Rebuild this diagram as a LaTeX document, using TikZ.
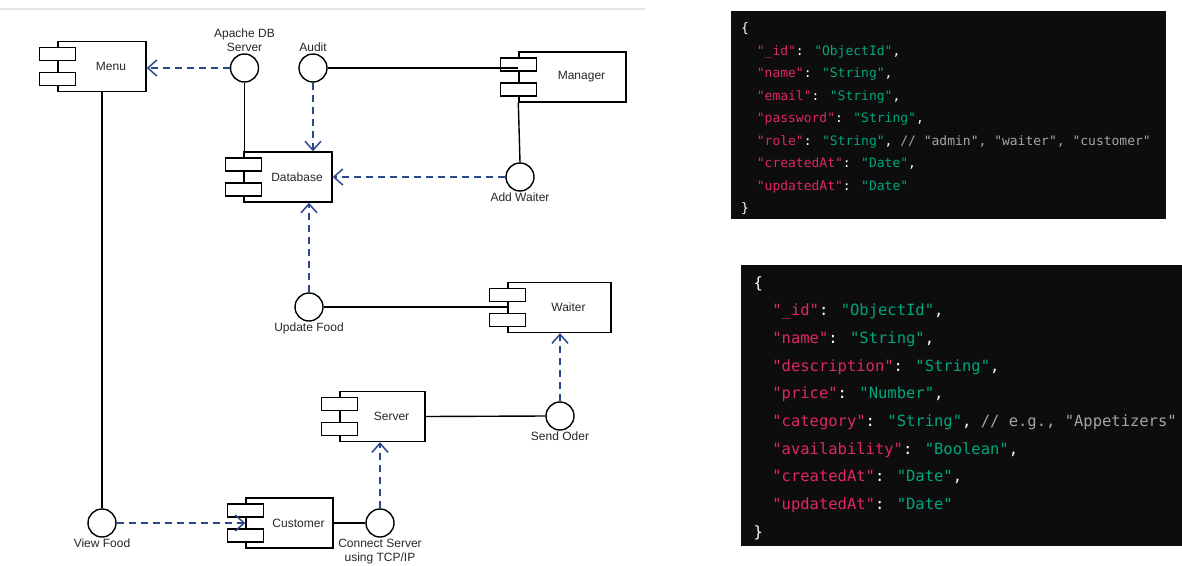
\documentclass[tikz,border=0pt]{standalone}
\usepackage{fontspec}
\usetikzlibrary{arrows.meta}
\newfontfamily\diagfont{Liberation Sans}
\newfontfamily\codefont{DejaVu Sans Mono}
\definecolor{depblue}{RGB}{44,72,140}
\definecolor{codebg}{RGB}{13,13,13}
\definecolor{jsonkey}{RGB}{222,40,95}
\definecolor{jsonstr}{RGB}{0,166,125}
\definecolor{jsoncmt}{RGB}{165,165,165}
\newcommand\jk[1]{\textcolor{jsonkey}{"#1"}}
\newcommand\js[1]{\textcolor{jsonstr}{"#1"}}
\newcommand\jc[1]{\textcolor{jsoncmt}{#1}}
\newcommand\jin{\phantom{xx}}

\begin{document}
\begin{tikzpicture}[x=1pt,y=-1pt,
  comp/.style={draw,line width=1.4pt,minimum width=#1,minimum height=50pt,
    inner sep=0pt,font=\diagfont\fontsize{12}{13}\selectfont,text=black!85,
    execute at begin node=\hspace*{18pt}},
  iface/.style={circle,draw,line width=1.4pt,minimum size=28pt,inner sep=0pt,
    label distance=1pt},
  lab/.style={font=\diagfont\fontsize{12}{14}\selectfont,text=black!85,
    align=center,inner sep=1pt},
  link/.style={line width=1.4pt},
  dep/.style={depblue,line width=1.5pt,dash pattern=on 7pt off 5pt,
    -{Straight Barb[length=9pt,width=16pt]}},
  usercode/.style={font=\codefont\fontsize{13}{22.5}\selectfont,text=white,
    align=left,inner sep=0pt,anchor=base west},
  menucode/.style={font=\codefont\fontsize{15.5}{27.7}\selectfont,text=white,
    align=left,inner sep=0pt,anchor=base west}]
  \useasboundingbox (0,0) rectangle (1182,565);
  \draw[black!10,line width=2.5pt] (0,9) -- (645,9);

  % Components.
  \node[comp=88pt] (menu) at (102,66.5) {Menu};
  \node[comp=88pt] (db) at (288,177) {Database};
  \node[comp=107pt] (manager) at (572.5,77) {Manager};
  \node[comp=103pt] (waiter) at (559.5,307.5) {Waiter};
  \node[comp=85pt] (server) at (382.5,416.5) {Server};
  \node[comp=87pt] (customer) at (289.5,523) {Customer};
  \foreach \c in {menu,db,manager,waiter,server,customer}{
    \draw[link,fill=white] ([shift={(-18,-19)}]\c.west) rectangle ([shift={(18,-6)}]\c.west);
    \draw[link,fill=white] ([shift={(-18,6)}]\c.west) rectangle ([shift={(18,19)}]\c.west);
  }

  % Interfaces.
  \node[iface,label={[lab]above:Apache DB\\Server}] (apache) at (244.5,68) {};
  \node[iface,label={[lab]above:Audit}] (audit) at (313,68) {};
  \node[iface,label={[lab]below:Add Waiter}] (addw) at (520,177) {};
  \node[iface,label={[lab]below:Update Food}] (upd) at (309,307) {};
  \node[iface,label={[lab]below:Send Oder}] (sendo) at (560,416) {};
  \node[iface,label={[lab]below:Connect Server\\using TCP/IP}] (conn) at (380,523) {};
  \node[iface,label={[lab]below:View Food}] (viewf) at (102,523) {};

  \draw[link] (apache.south) -- (apache.south |- db.north);
  \draw[link] (audit.east) -- (audit.east -| manager.west);
  \draw[link] (manager.south west) -- (addw.north);
  \draw[link] (menu.south) -- (viewf.north);
  \draw[link] (upd.east) -- (upd.east -| waiter.west);
  \draw[link] (server.east) -- (sendo.west);
  \draw[link] (customer.east) -- (conn.west);

  \draw[dep] (apache.west) -- (apache.west -| menu.east);
  \draw[dep] (audit.south) -- (audit.south |- db.north);
  \draw[dep] (addw.west) -- (addw.west -| db.east);
  \draw[dep] (upd.north) -- (upd.north |- db.south);
  \draw[dep] (sendo.north) -- (sendo.north |- waiter.south);
  \draw[dep] (conn.north) -- (conn.north |- server.south);
  \draw[dep] (viewf.east) -- (viewf.east -| customer.west);

  % Schemas.
  \fill[codebg] (731,11) rectangle (1166,219);
  \node[usercode] (userdoc) at (741,212.5) {\{\\
    \jin\jk{\_id}: \js{ObjectId},\\
    \jin\jk{name}: \js{String},\\
    \jin\jk{email}: \js{String},\\
    \jin\jk{password}: \js{String},\\
    \jin\jk{role}: \js{String}, \jc{// "admin", "waiter", "customer"}\\
    \jin\jk{createdAt}: \js{Date},\\
    \jin\jk{updatedAt}: \js{Date}\\
    \}};

  \fill[codebg] (741,265) rectangle (1182,546);
  \begin{scope}
    \clip (741,265) rectangle (1182,546);
    \node[menucode] (fooddoc) at (753.5,537.3) {\{\\
      \jin\jk{\_id}: \js{ObjectId},\\
      \jin\jk{name}: \js{String},\\
      \jin\jk{description}: \js{String},\\
      \jin\jk{price}: \js{Number},\\
      \jin\jk{category}: \js{String}, \jc{// e.g., "Appetizers"}\\
      \jin\jk{availability}: \js{Boolean},\\
      \jin\jk{createdAt}: \js{Date},\\
      \jin\jk{updatedAt}: \js{Date}\\
      \}};
  \end{scope}
\end{tikzpicture}
\end{document}
